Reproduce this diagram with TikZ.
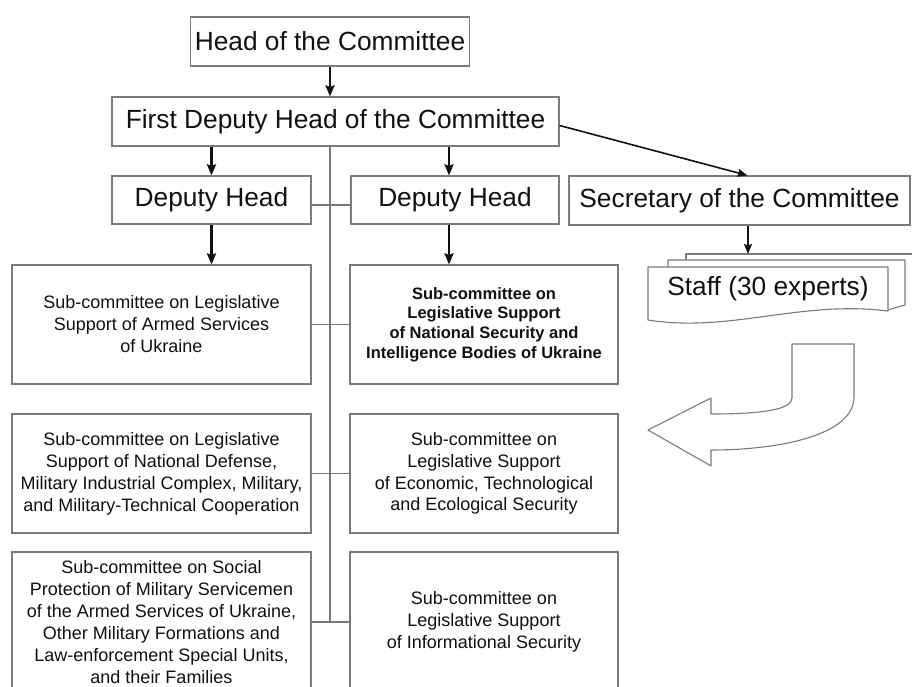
\documentclass[tikz,border=0pt]{standalone}
\usepackage{fontspec}
\setmainfont{Liberation Sans}
\usetikzlibrary{arrows.meta}
\definecolor{boxgray}{HTML}{7A7A7A}
\definecolor{linegray}{HTML}{777777}
\definecolor{inkblack}{HTML}{111111}
\begin{document}
\begin{tikzpicture}[x=1pt,y=-1pt,
  box/.style={draw=boxgray, line width=1.2pt, fill=white, inner sep=0pt, align=center, text=inkblack},
  bigbox/.style={box, minimum height=49pt, font=\fontsize{26.3}{30}\selectfont},
  subL/.style={box, minimum width=299pt, minimum height=119pt, font=\fontsize{18}{22}\selectfont},
  subR/.style={box, minimum width=268pt, minimum height=119pt, font=\fontsize{18}{21.8}\selectfont},
  conn/.style={draw=linegray, line width=1.2pt},
  arr/.style={draw=inkblack, line width=2.3pt, -{Stealth[length=11pt,width=9pt,inset=1.5pt]}},
  thinarr/.style={draw=inkblack, line width=1.6pt, -{Stealth[length=10pt,width=8pt,inset=1.5pt]}},
  blockshape/.style={draw=boxgray, line width=1.1pt, fill=white, line join=round}
]
\useasboundingbox (0,0) rectangle (912,686);
\clip (0,0) rectangle (912,686);
\fill[white] (0,0) rectangle (912,686);

% top boxes
\node[bigbox, minimum width=279pt] (head) at (330,41.5) {Head of the Committee};
\node[bigbox, minimum width=447pt] (fdh) at (335.5,121.5) {First Deputy Head of the Committee};
\node[bigbox, minimum width=199pt, minimum height=48pt] (dh1) at (211.5,200) {Deputy Head};
\node[bigbox, minimum width=208pt, minimum height=48pt] (dh2) at (455,200) {Deputy Head};
\node[bigbox, minimum width=341pt] (sec) at (739.5,200.5) {Secretary of the Committee};

% sub-committees
\node[subL] (s1L) at (161.5,324.5) {Sub-committee on Legislative\\Support of Armed Services\\of Ukraine};
\node[subR, font=\bfseries\fontsize{16.5}{19.7}\selectfont] (s1R) at (484,324.5) {Sub-committee on\\Legislative Support\\of National Security and\\Intelligence Bodies of Ukraine};
\node[subL] (s2L) at (161.5,473.5) {Sub-committee on Legislative\\Support of National Defense,\\Military Industrial Complex, Military,\\and Military-Technical Cooperation};
\node[subR] (s2R) at (484,473.5) {Sub-committee on\\Legislative Support\\of Economic, Technological\\and Ecological Security};
\node[subL, minimum height=140pt] (s3L) at (161.5,622) {Sub-committee on Social\\Protection of Military Servicemen\\of the Armed Services of Ukraine,\\Other Military Formations and\\Law-enforcement Special Units,\\and their Families};
\node[subR, minimum height=140pt] (s3R) at (484,622) {Sub-committee on\\Legislative Support\\of Informational Security};

% spine and horizontal connectors
\draw[conn] (head.south |- fdh.south) -- (head.south |- s3L.east);
\draw[conn] ([yshift=-5pt]dh1.east) -- ([yshift=-5pt]dh2.west);
\draw[conn] (s1L.east) -- (s1R.west);
\draw[conn] (s2L.east) -- (s2R.west);
\draw[conn] (s3L.east) -- (s3R.west);

% arrows
\draw[arr] (head.south) -- (head.south |- fdh.north);
\draw[arr] (fdh.south -| dh1.north) -- (dh1.north);
\draw[arr] ([xshift=-6pt]dh2.north |- fdh.south) -- ([xshift=-6pt]dh2.north);
\draw[arr] (dh1.south) -- (dh1.south |- s1L.north);
\draw[arr] ([xshift=-6pt]dh2.south) -- ([xshift=-6pt]dh2.south |- s1R.north);
\draw[thinarr] ([yshift=-4pt]fdh.east) -- ([xshift=8pt]sec.north);

% staff stack (documents shape)
\draw[blockshape] (686,300) -- (686,254) -- (930,254) -- (930,296);
\draw[blockshape] (888,310) .. controls (895,308) and (900,306) .. (905,305) -- (905,260) -- (668,260) -- (668,300);
\draw[blockshape] (648,267) -- (888,267) -- (888,311) .. controls (800,300) and (730,333) .. (648,320) -- cycle;
\node[font=\fontsize{26.3}{30}\selectfont, text=inkblack, inner sep=0pt] (staff) at (768,289) {Staff (30 experts)};
\coordinate (stafftop) at (748,254);
\draw[thinarr] (sec.south -| stafftop) -- (stafftop);

% curved block arrow
\draw[blockshape] (792,344) -- (854,344) -- (854,397)
  .. controls (854,435) and (780,450) .. (711,450)
  -- (711,466) -- (648,430) -- (711,398) -- (711,414)
  .. controls (760,414) and (792,410) .. (792,398) -- cycle;
\end{tikzpicture}
\end{document}
